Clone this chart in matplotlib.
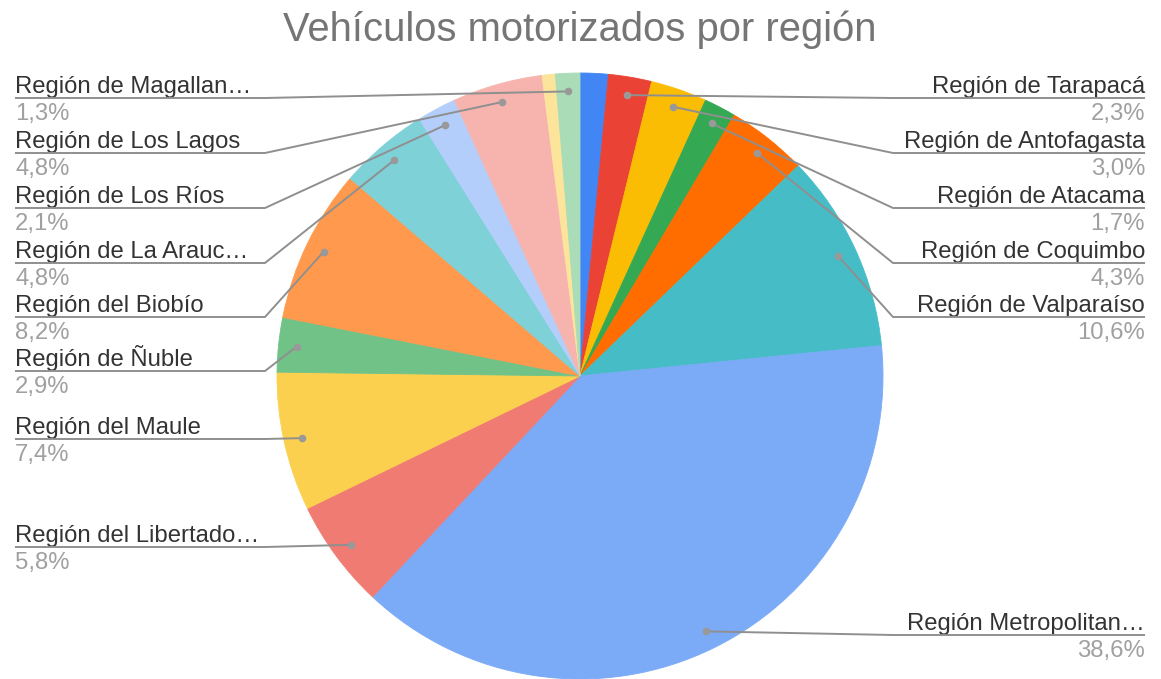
import matplotlib
matplotlib.use('Agg')
import matplotlib.pyplot as plt
import numpy as np

plt.rcParams['font.family'] = ['Liberation Sans', 'DejaVu Sans']

title = "Vehículos motorizados por región"
regions = ["Región de Arica y Parinacota", "Región de Tarapacá", "Región de Antofagasta",
           "Región de Atacama", "Región de Coquimbo", "Región de Valparaíso",
           "Región Metropolitana", "Región del Libertador", "Región del Maule",
           "Región de Ñuble", "Región del Biobío", "Región de La Araucanía",
           "Región de Los Ríos", "Región de Los Lagos", "Región de Aysén",
           "Región de Magallanes"]
shown_labels = [None, "Región de Tarapacá", "Región de Antofagasta", "Región de Atacama",
                "Región de Coquimbo", "Región de Valparaíso", "Región Metropolitan…",
                "Región del Libertado…", "Región del Maule", "Región de Ñuble",
                "Región del Biobío", "Región de La Arauc…", "Región de Los Ríos",
                "Región de Los Lagos", None, "Región de Magallan…"]
values = [1.5, 2.3, 3.0, 1.7, 4.3, 10.6, 38.6, 5.8, 7.4, 2.9, 8.2, 4.8, 2.1, 4.8, 0.7, 1.3]
colors = ["#4285F4", "#EA4335", "#FBBC04", "#34A853", "#FF6D01", "#46BDC6", "#7BAAF7",
          "#F07B72", "#FCD04F", "#71C287", "#FF994D", "#7ED1D7", "#B3CEFB", "#F7B4AE",
          "#FDE49B", "#AADCB7"]

# layout (pixel coordinates)
label_side = [None, 'R', 'R', 'R', 'R', 'R', 'R', 'L', 'L', 'L', 'L', 'L', 'L', 'L', None, 'L']
label_y = [None, 98, 153, 208, 263, 317, 635, 547, 439, 371, 317, 263, 208, 153, None, 98]
W, H = 1161, 679
cx, cy, R = 580, 376, 303

fig = plt.figure(figsize=(W / 100, H / 100), dpi=100)
ax = fig.add_axes([0, 0, 1, 1])
wedges, _ = ax.pie(values, colors=colors, startangle=-90, counterclock=True,
                   radius=R, center=(cx, cy),
                   wedgeprops=dict(linewidth=0.6))
for w, c in zip(wedges, colors):
    w.set_edgecolor(c)
ax.set_xlim(0, W)
ax.set_ylim(H, 0)
ax.set_aspect('auto')
ax.axis('off')

total = sum(values)
cum = np.cumsum([0] + values)
line_col = '#8f8f8f'
for i, v in enumerate(values):
    if shown_labels[i] is None:
        continue
    mid = (cum[i] + v / 2) / total
    th = np.deg2rad(-90 + 360 * mid)
    dx = cx + 0.94 * R * np.cos(th)
    dy = cy + 0.94 * R * np.sin(th)
    ly = label_y[i]
    pct = f"{v:.1f}%".replace('.', ',')
    if label_side[i] == 'L':
        xs = [15, 265, dx]
        tx, ha = 15, 'left'
    else:
        xs = [1145, 893, dx]
        tx, ha = 1145, 'right'
    ax.plot(xs, [ly, ly, dy], color=line_col, lw=1.4, zorder=5, solid_capstyle='butt')
    ax.plot([dx], [dy], 'o', color='#999999', ms=5.5, mew=0, zorder=6)
    ax.text(tx, ly - 5, shown_labels[i], ha=ha, va='baseline', fontsize=17.2, color='#333333')
    ax.text(tx, ly + 22, pct, ha=ha, va='baseline', fontsize=17.2, color='#a0a0a0')

ax.text(580, 41, title, ha='center', va='baseline', fontsize=28.8, color='#757575')

fig.savefig('out.png', dpi=100)
